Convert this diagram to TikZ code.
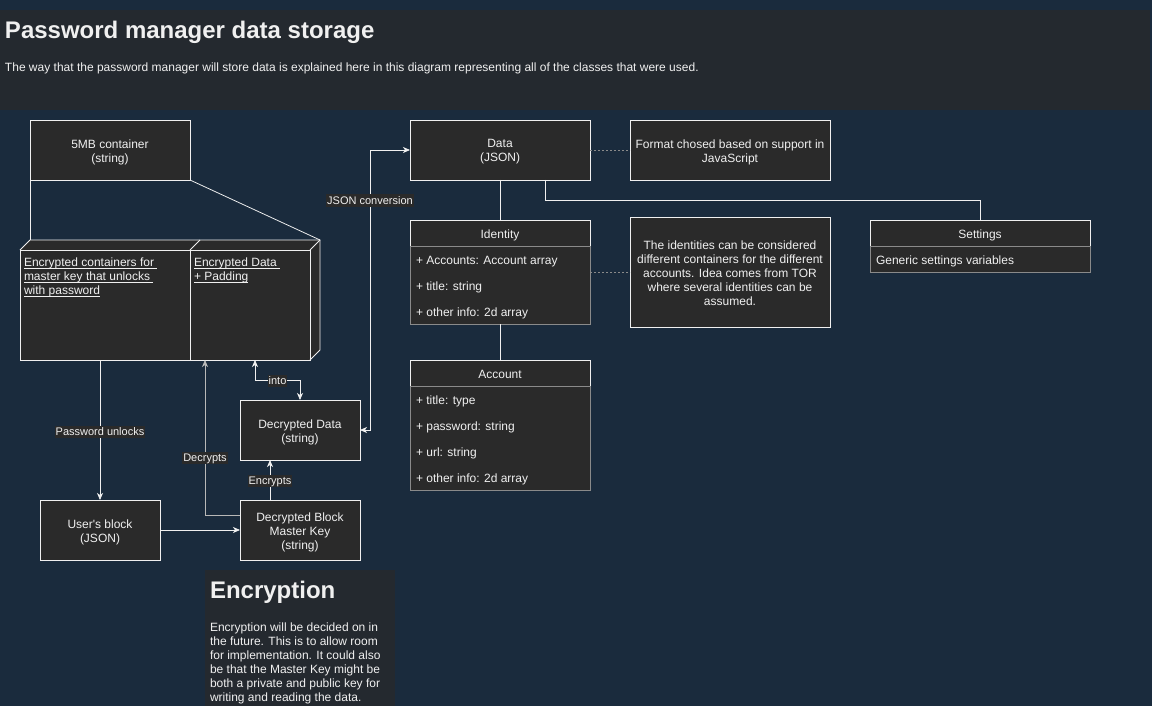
\documentclass[tikz,border=0pt]{standalone}
\usepackage{fontspec}
\setmainfont{Liberation Sans}[Ligatures=TeXOff]
\usetikzlibrary{arrows.meta}
\definecolor{bgc}{HTML}{1A2B3D}
\definecolor{banc}{HTML}{24292F}
\definecolor{boxc}{HTML}{2A2A2A}
\definecolor{txc}{HTML}{F0F0F0}
\definecolor{grc}{HTML}{8A8A8A}
\definecolor{lgc}{HTML}{B8B8B8}
\newcommand\myst{\rule[-0.212em]{0pt}{1.117em}}
\newcommand\myul[1]{\setbox0\hbox{#1}\rlap{\rule[-1.8pt]{\wd0}{0.8pt}}\box0}
\begin{document}
\begin{tikzpicture}[x=1pt,y=-1pt,
  every node/.style={text=txc, font=\fontsize{12}{14}\selectfont, outer sep=0pt,
    execute at begin node=\myst, execute at end node=\myst},
  box/.style={draw=txc, fill=boxc, line width=0.8pt, inner sep=0pt},
  boxtxt/.style={align=center, inner sep=0pt},
  body/.style={draw=grc, fill=boxc, line width=0.8pt, inner sep=0pt},
  rowtxt/.style={anchor=west, inner sep=0pt},
  lbl/.style={fill=boxc, font=\fontsize{11}{13}\selectfont, inner sep=1pt, inner ysep=0pt},
  conn/.style={draw=txc, line width=0.8pt},
  arr/.style={conn, -{Stealth[length=7pt,width=6pt,inset=2pt]}},
  biarr/.style={conn, {Stealth[length=7pt,width=6pt,inset=2pt]}-{Stealth[length=7pt,width=6pt,inset=2pt]}},
  dots/.style={draw=grc, line width=0.8pt, dash pattern=on 2pt off 2pt},
  bigtitle/.style={font=\bfseries\fontsize{24}{28}\selectfont, inner sep=0pt, anchor=west}
]
\fill[bgc] (0,0) rectangle (1152,706);
\useasboundingbox (0,0) rectangle (1152,706);

% banner
\node[fill=banc, minimum width=1150pt, minimum height=100pt, anchor=north west, inner sep=0pt] (banner) at (0,10) {};
\node[bigtitle] (title) at (5,30) {Password manager data storage};
\node[anchor=west, inner sep=0pt] (subtitle) at (5,67) {The way that the password manager will store data is explained here in this diagram representing all of the classes that were used.};

% 5MB container
\node[box, minimum width=160pt, minimum height=60pt] (cont) at (110,150) {};
\node[boxtxt] (cont-t) at ([yshift=-2pt]cont.center) {5MB container\\(string)};

% 3D box
\coordinate (bxtl) at (30,240);
\coordinate (bxtr) at (320,240);
\fill[boxc] (20,250) -- (30,240) -- (320,240) -- (320,350) -- (310,360) -- (20,360) -- cycle;
\draw[conn] (20,250) rectangle (310,360);
\draw[conn] (20,250) -- (bxtl) -- (bxtr) -- (320,350) -- (310,360);
\draw[conn] (310,250) -- (bxtr);
\draw[conn] (190,250) -- (190,360);
\draw[conn] (190,250) -- (200,240);
\node[inner sep=0pt, minimum width=170pt, minimum height=110pt] (encL) at (105,305) {};
\node[inner sep=0pt, minimum width=120pt, minimum height=110pt] (encR) at (250,305) {};
\node[anchor=north west, align=left, inner sep=0pt] (tL) at (24,258) {\myul{Encrypted containers for }\\\myul{master key that unlocks }\\\myul{with password}};
\node[anchor=north west, align=left, inner sep=0pt] (tR) at (194,258) {\myul{Encrypted Data }\\\myul{+ Padding}};

\draw[conn] (cont.south west) -- (bxtl);
\draw[conn] (cont.south east) -- (bxtr);

% lower left nodes
\node[box, minimum width=120pt, minimum height=60pt] (user) at (100,530) {};
\node[boxtxt] (user-t) at ([yshift=-2pt]user.center) {User's block\\(JSON)};
\node[box, minimum width=120pt, minimum height=60pt] (dblock) at (300,530) {};
\node[boxtxt] (dblock-t) at ([yshift=-2pt]dblock.center) {Decrypted Block\\Master Key\\(string)};
\node[box, minimum width=120pt, minimum height=60pt] (ddata) at (300,430) {};
\node[boxtxt] (ddata-t) at ([yshift=-2pt]ddata.center) {Decrypted Data\\(string)};

\coordinate (decT) at (205,360);
\coordinate (intoT) at (255,360);

\draw[arr] (encL.south -| user) -- node[lbl, yshift=-2pt]{Password unlocks} (user.north);
\draw[arr] (user) -- (dblock);
\draw[arr, draw=lgc] ([yshift=15pt]dblock.west) -| node[lbl, pos=0.69, yshift=-2pt]{Decrypts} (decT);
\draw[arr] ([xshift=-30pt]dblock.north) -- node[lbl, yshift=-1pt]{Encrypts} ([xshift=-30pt]ddata.north |- ddata.south);
\draw[biarr] (intoT) -- (255,380) -- node[lbl, yshift=-1pt]{into} (300,380) -- (ddata.north);

% Data
\node[box, minimum width=180pt, minimum height=60pt] (data) at (500,150) {};
\node[boxtxt] (data-t) at ([yshift=-2pt]data.center) {Data\\(JSON)};
\draw[biarr] (ddata.east) -- (370,430) -- node[lbl, pos=0.82]{JSON conversion} (370,150) -- (data.west);

\node[box, minimum width=200pt, minimum height=60pt] (note1) at (730,150) {};
\node[boxtxt] (note1-t) at ([yshift=-2pt]note1.center) {Format chosed based on support in\\JavaScript};
\draw[dots] (data.east) -- (note1.west);

% Identity class
\node[box, minimum width=180pt, minimum height=26pt] (idh) at (500,233) {};
\node[boxtxt] (idh-t) at ([yshift=-1pt]idh.center) {Identity};
\node[body, minimum width=180pt, minimum height=78pt, anchor=north] (idb) at (idh.south) {};
\node[rowtxt] (id1) at (416,260) {+ Accounts: Account array};
\node[rowtxt] (id2) at (416,286) {+ title: string};
\node[rowtxt] (id3) at (416,312) {+ other info: 2d array};

\node[box, minimum width=200pt, minimum height=110pt] (note2) at (730,272) {};
\node[boxtxt] (note2-t) at ([yshift=-2pt]note2.center) {The identities can be considered\\different containers for the different\\accounts. Idea comes from TOR\\where several identities can be\\assumed.};
\draw[dots] (note2.west -| idb.east) -- (note2.west);

\draw[conn] (data.south) -- (idh.north);

% Account class
\node[box, minimum width=180pt, minimum height=26pt] (ach) at (500,373) {};
\node[boxtxt] (ach-t) at ([yshift=-1pt]ach.center) {Account};
\node[body, minimum width=180pt, minimum height=104pt, anchor=north] (acb) at (ach.south) {};
\node[rowtxt] (ac1) at (416,400) {+ title: type};
\node[rowtxt] (ac2) at (416,426) {+ password: string};
\node[rowtxt] (ac3) at (416,452) {+ url: string};
\node[rowtxt] (ac4) at (416,478) {+ other info: 2d array};
\draw[conn] (idb.south) -- (ach.north);

% Settings class
\node[box, minimum width=220pt, minimum height=26pt] (seth) at (980,233) {};
\node[boxtxt] (seth-t) at ([yshift=-1pt]seth.center) {Settings};
\node[body, minimum width=220pt, minimum height=26pt, anchor=north] (setb) at (seth.south) {};
\node[rowtxt] (set1) at (876,260) {Generic settings variables};
\draw[conn] ([xshift=45pt]data.south) -- ++(0,20) -| (seth.north);

% Encryption note
\node[fill=banc, minimum width=190pt, minimum height=136pt, anchor=north west, inner sep=0pt] (encbox) at (205,570) {};
\node[bigtitle] (enct) at (210,590) {Encryption};
\node[anchor=north west, align=left, inner sep=0pt] (encbody) at (210,623) {Encryption will be decided on in\\the future. This is to allow room\\for implementation. It could also\\be that the Master Key might be\\both a private and public key for\\writing and reading the data.};
\end{tikzpicture}
\end{document}
